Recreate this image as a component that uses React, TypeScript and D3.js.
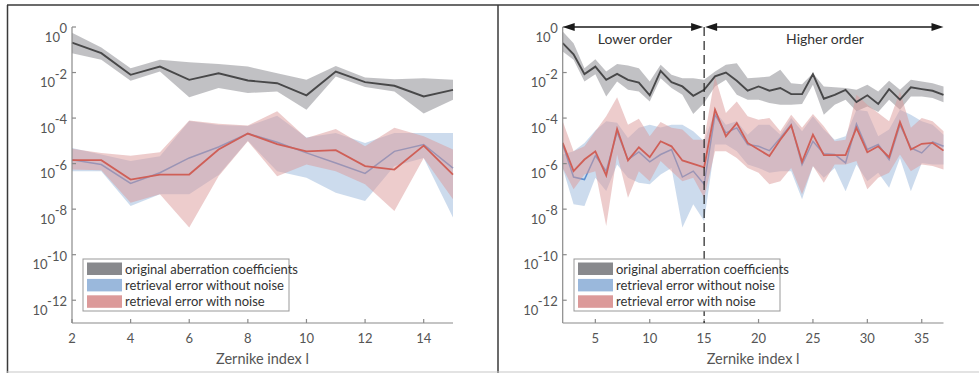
import React from "react";
import * as d3 from "d3";

// ---------- data (values stored as log10 of the quantity) ----------
const leftIdx = [2, 3, 4, 5, 6, 7, 8, 9, 10, 11, 12, 13, 14, 15];
const leftOrigMean = [-0.69, -1.15, -2.1, -1.74, -2.32, -2.03, -2.35, -2.47, -3.0, -1.96, -2.42, -2.58, -3.05, -2.76];
const leftOrigHi = [-0.25, -0.9, -1.81, -1.44, -1.55, -1.62, -1.74, -2.03, -2.32, -1.71, -2.22, -2.29, -2.25, -2.32];
const leftOrigLo = [-1.15, -1.44, -2.36, -1.95, -3.08, -2.68, -2.9, -2.83, -3.63, -2.17, -2.64, -2.83, -3.8, -3.19];
const leftCleanMean = [-5.83, -6.04, -6.87, -6.4, -5.75, -5.27, -4.68, -5.06, -5.53, -5.97, -6.43, -5.46, -5.16, -6.2];
const leftCleanHi = [-5.31, -5.6, -5.89, -5.68, -4.13, -4.3, -4.35, -3.9, -4.85, -4.65, -5.09, -4.65, -4.65, -4.65];
const leftCleanLo = [-6.33, -6.33, -7.86, -7.35, -7.35, -6.5, -5.0, -6.33, -6.62, -7.28, -7.64, -6.11, -5.75, -8.37];
const leftNoisyMean = [-5.85, -5.85, -6.7, -6.48, -6.48, -5.38, -4.68, -5.14, -5.46, -5.41, -6.11, -6.26, -5.21, -6.48];
const leftNoisyHi = [-5.35, -5.53, -5.65, -5.5, -4.11, -4.25, -4.33, -3.7, -4.87, -4.48, -5.24, -4.43, -4.8, -5.38];
const leftNoisyLo = [-6.26, -6.29, -7.72, -7.35, -8.81, -6.55, -5.02, -6.55, -6.04, -6.33, -6.91, -8.08, -5.75, -7.57];

const rightIdx = [2, 3, 4, 5, 6, 7, 8, 9, 10, 11, 12, 13, 14, 15, 16, 17, 18, 19, 20, 21, 22, 23, 24, 25, 26, 27, 28, 29, 30, 31, 32, 33, 34, 35, 36, 37];
const rightOrigMean = [-0.71, -1.2, -2.07, -1.74, -2.32, -2.06, -2.32, -2.44, -3.0, -1.93, -2.42, -2.61, -3.02, -2.76, -2.17, -2.0, -2.36, -2.8, -2.61, -2.8, -2.68, -2.95, -2.95, -2.07, -3.15, -2.98, -2.76, -3.3, -3.0, -3.38, -2.73, -3.19, -2.65, -2.73, -2.8, -2.98];
const rightOrigHi = [-0.2, -0.71, -1.81, -1.42, -1.95, -1.63, -1.69, -1.81, -2.39, -1.66, -2.1, -2.25, -2.25, -2.32, -1.95, -1.66, -1.59, -2.25, -2.22, -2.17, -1.88, -2.47, -2.51, -2.03, -2.61, -2.65, -2.68, -2.76, -2.54, -2.83, -2.36, -2.76, -2.32, -2.39, -2.47, -2.61];
const rightOrigLo = [-1.08, -1.44, -2.39, -2.07, -3.05, -2.39, -2.76, -2.83, -3.27, -2.25, -2.68, -2.98, -3.82, -3.34, -2.61, -2.32, -2.98, -3.19, -3.19, -3.34, -3.41, -3.41, -3.38, -2.54, -3.85, -3.41, -3.19, -3.7, -3.49, -3.73, -3.19, -3.63, -3.05, -3.05, -3.12, -3.3];
const rightNoisyMean = [-5.09, -6.33, -5.82, -5.46, -6.52, -4.48, -5.86, -5.28, -5.72, -5.02, -5.24, -5.86, -6.01, -6.16, -3.63, -4.8, -4.22, -5.09, -5.38, -5.67, -4.95, -4.32, -5.92, -4.73, -5.63, -5.63, -5.63, -4.43, -5.5, -5.24, -5.72, -4.17, -5.38, -5.13, -5.09, -5.43];
const rightCleanMean = [-5.16, -6.59, -6.7, -5.65, -6.33, -4.61, -5.82, -5.49, -5.92, -5.6, -5.38, -6.59, -6.33, -6.91, -3.85, -4.65, -4.43, -5.16, -5.24, -5.43, -4.87, -4.29, -6.04, -5.02, -5.57, -5.6, -5.97, -4.26, -5.38, -5.16, -5.82, -4.29, -5.31, -5.53, -5.05, -5.24];
const rightNoisyHi = [-4.14, -5.46, -5.24, -4.58, -3.92, -3.09, -4.29, -4.03, -4.8, -4.17, -4.43, -4.5, -4.95, -4.95, -2.17, -3.78, -3.27, -3.92, -4.07, -4.0, -4.58, -3.85, -4.43, -3.82, -4.36, -5.02, -4.95, -2.98, -3.41, -3.78, -4.14, -2.83, -4.43, -4.0, -4.14, -4.58];
const rightCleanHi = [-5.6, -5.46, -5.1, -4.55, -4.14, -4.2, -4.87, -4.43, -4.29, -4.41, -4.29, -4.29, -4.58, -5.02, -3.7, -4.29, -4.14, -4.73, -4.29, -4.29, -4.73, -4.0, -4.58, -3.92, -4.5, -4.95, -4.8, -3.63, -3.7, -4.8, -4.5, -3.63, -3.85, -4.14, -4.29, -4.73];
const rightNoisyLo = [-6.19, -7.13, -6.48, -6.33, -8.74, -5.6, -7.5, -6.33, -6.77, -5.89, -6.33, -6.77, -6.62, -7.5, -5.46, -5.46, -5.75, -6.19, -6.4, -6.91, -6.77, -6.19, -7.35, -6.11, -6.84, -6.04, -6.04, -5.89, -7.13, -6.62, -6.4, -5.6, -6.33, -6.04, -6.11, -6.26];
const rightCleanLo = [-6.19, -7.79, -7.86, -6.62, -7.2, -6.04, -6.62, -6.84, -6.91, -6.48, -6.19, -8.81, -7.79, -8.52, -5.16, -5.16, -5.46, -6.04, -6.19, -6.4, -6.33, -6.33, -7.57, -6.11, -6.62, -6.19, -7.21, -6.04, -6.77, -6.4, -7.06, -5.75, -7.21, -5.97, -6.04, -6.04];

const yTickExps = [0, -2, -4, -6, -8, -10, -12];
const leftXTicks = [2, 4, 6, 8, 10, 12, 14];
const rightXTicks = [5, 10, 15, 20, 25, 30, 35];
const legendLabels = [
  "original aberration coefficients",
  "retrieval error without noise",
  "retrieval error with noise",
];
const xLabel = "Zernike index l";
const orderLabels = ["Lower order", "Higher order"];
const orderSplit = 15;

// ---------- styles ----------
const FONT = "Lato, 'Open Sans', sans-serif";
const GRAY_FILL = "#88898d";
const BLUE_FILL = "#9ab8dc";
const RED_FILL = "#dc9a9a";
const GRAY_LINE = "#484849";
const BLUE_LINE = "#5b8fd0";
const RED_LINE = "#cf5f57";
const AXIS = "#8a8a8a";
const TEXT = "#555";

type PanelProps = {
  x0: number;
  x1: number;
  idx: number[];
  xDomain: [number, number];
  xTicks: number[];
  origMean: number[];
  origHi: number[];
  origLo: number[];
  cleanMean: number[];
  cleanHi: number[];
  cleanLo: number[];
  noisyMean: number[];
  noisyHi: number[];
  noisyLo: number[];
  legendX: number;
  orders?: boolean;
};

const yTop = 27;
const yBottom = 323;

function Panel(p: PanelProps) {
  const x = d3.scaleLinear().domain(p.xDomain).range([p.x0, p.x1]);
  const y = d3.scaleLog().domain([1e-13, 1]).range([yBottom, yTop]);
  const pow = (e: number) => Math.pow(10, e);

  const band = (hi: number[], lo: number[]) =>
    d3
      .area<number>()
      .x((d) => x(d))
      .y0((_, i) => y(pow(lo[i])))
      .y1((_, i) => y(pow(hi[i])))(p.idx) || "";
  const line = (m: number[]) =>
    d3
      .line<number>()
      .x((d) => x(d))
      .y((_, i) => y(pow(m[i])))(p.idx) || "";

  const lx = p.legendX;
  const legendTop = 259;
  const rowH = 16.4;

  return (
    <g>
      {/* bands & lines */}
      <path d={band(p.origHi, p.origLo)} fill={GRAY_FILL} fillOpacity={0.52} />
      <path d={band(p.cleanHi, p.cleanLo)} fill={BLUE_FILL} fillOpacity={0.5} />
      <path d={line(p.cleanMean)} fill="none" stroke={BLUE_LINE} strokeWidth={1.5} />
      <path d={band(p.noisyHi, p.noisyLo)} fill={RED_FILL} fillOpacity={0.5} />
      <path d={line(p.noisyMean)} fill="none" stroke={RED_LINE} strokeWidth={1.8} />
      <path d={line(p.origMean)} fill="none" stroke={GRAY_LINE} strokeWidth={1.9} />

      {/* axes */}
      <line x1={p.x0} x2={p.x0} y1={yTop} y2={yBottom} stroke={AXIS} strokeWidth={1.2} />
      <line x1={p.x0} x2={p.x1} y1={yBottom} y2={yBottom} stroke={AXIS} strokeWidth={1.2} />
      {yTickExps.map((e) => (
        <g key={e}>
          <line x1={p.x0} x2={p.x0 + 4} y1={y(pow(e))} y2={y(pow(e))} stroke={AXIS} strokeWidth={1.2} />
          <text
            x={p.x0 - 5}
            y={y(pow(e)) + 14.5}
            textAnchor="end"
            fontSize={13}
            fill={TEXT}
            fontFamily={FONT}
          >
            <tspan>10</tspan>
            <tspan dx={-0.5} dy={-8.5}>
              {e === 0 ? "0" : `-${-e}`}
            </tspan>
          </text>
        </g>
      ))}
      {p.xTicks.map((t) => (
        <g key={t}>
          <line x1={x(t)} x2={x(t)} y1={yBottom} y2={yBottom - 4} stroke={AXIS} strokeWidth={1.2} />
          <text x={x(t)} y={yBottom + 20} textAnchor="middle" fontSize={13} fill={TEXT} fontFamily={FONT}>
            {t}
          </text>
        </g>
      ))}
      <text
        x={(p.x0 + p.x1) / 2}
        y={364}
        textAnchor="middle"
        fontSize={14.5}
        fill={TEXT}
        fontFamily={FONT}
      >
        {xLabel}
      </text>

      {p.orders && (
        <g>
          <line
            x1={x(orderSplit)}
            x2={x(orderSplit)}
            y1={yTop}
            y2={yBottom}
            stroke="#222"
            strokeWidth={1.2}
            strokeDasharray="9,5"
          />
          {[
            [p.x0, x(orderSplit) - 1],
            [x(orderSplit) + 1, p.x1],
          ].map(([a, b], i) => (
            <g key={i}>
              <line x1={a + 8} x2={b - 8} y1={yTop} y2={yTop} stroke="#1a1a1a" strokeWidth={1.6} />
              <path d={`M${a},${yTop} L${a + 12},${yTop - 4} L${a + 12},${yTop + 4} Z`} fill="#1a1a1a" />
              <path d={`M${b},${yTop} L${b - 12},${yTop - 4} L${b - 12},${yTop + 4} Z`} fill="#1a1a1a" />
              <text
                x={i === 0 ? 635 : 825}
                y={44}
                textAnchor="middle"
                fontSize={14}
                fill="#333"
                fontFamily={FONT}
              >
                {orderLabels[i]}
              </text>
            </g>
          ))}
        </g>
      )}

      {/* legend */}
      <rect x={lx} y={legendTop} width={206} height={52} fill="#fff" stroke="#999" strokeWidth={1} />
      {legendLabels.map((lab, i) => (
        <g key={lab}>
          <rect
            x={lx + 4}
            y={legendTop + 3.5 + i * rowH}
            width={35}
            height={12.5}
            fill={[GRAY_FILL, BLUE_FILL, RED_FILL][i]}
          />
          <text x={lx + 42} y={legendTop + 14.5 + i * rowH} fontSize={13} fill="#333" fontFamily={FONT}>
            {lab}
          </text>
        </g>
      ))}
    </g>
  );
}

export default function App() {
  return (
    <svg
      width={979}
      height={373}
      style={{ position: "absolute", left: 0, top: 0, background: "#fff" }}
    >
      <rect x={0} y={0} width={979} height={373} fill="#fff" />
      {/* frames */}
      <line x1={7} x2={979} y1={5} y2={5} stroke="#3a3a3a" strokeWidth={1.5} />
      <line x1={7.5} x2={7.5} y1={5} y2={373} stroke="#3a3a3a" strokeWidth={1.5} />
      <line x1={498} x2={498} y1={5} y2={373} stroke="#3a3a3a" strokeWidth={1.5} />
      <line x1={7} x2={979} y1={372} y2={372} stroke="#c8c8c8" strokeWidth={1.2} />

      <Panel
        x0={72}
        x1={453}
        idx={leftIdx}
        xDomain={[2, 15]}
        xTicks={leftXTicks}
        origMean={leftOrigMean}
        origHi={leftOrigHi}
        origLo={leftOrigLo}
        cleanMean={leftCleanMean}
        cleanHi={leftCleanHi}
        cleanLo={leftCleanLo}
        noisyMean={leftNoisyMean}
        noisyHi={leftNoisyHi}
        noisyLo={leftNoisyLo}
        legendX={83}
      />
      <Panel
        x0={562.7}
        x1={943.5}
        idx={rightIdx}
        xDomain={[2, 37]}
        xTicks={rightXTicks}
        origMean={rightOrigMean}
        origHi={rightOrigHi}
        origLo={rightOrigLo}
        cleanMean={rightCleanMean}
        cleanHi={rightCleanHi}
        cleanLo={rightCleanLo}
        noisyMean={rightNoisyMean}
        noisyHi={rightNoisyHi}
        noisyLo={rightNoisyLo}
        legendX={574}
        orders
      />
    </svg>
  );
}
